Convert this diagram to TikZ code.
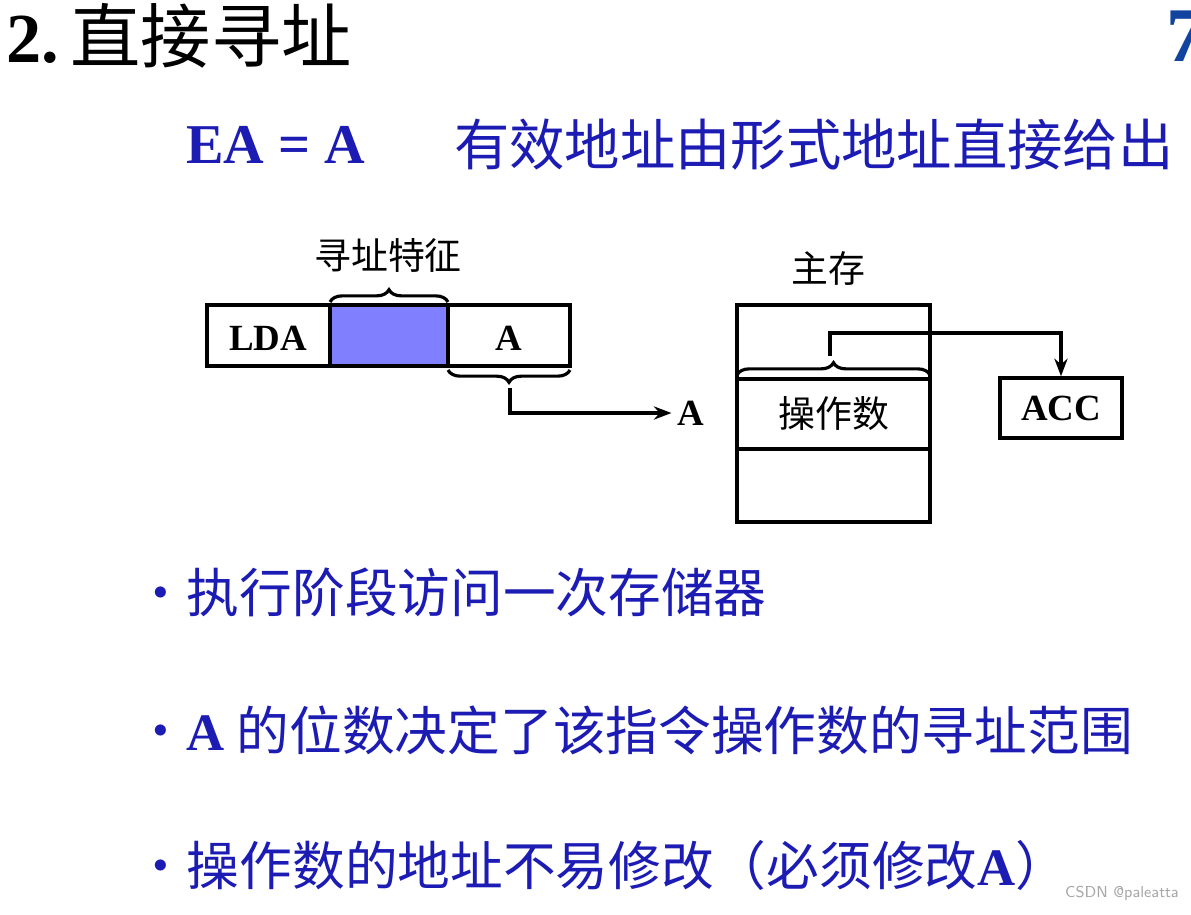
\documentclass[tikz,border=0pt]{standalone}
\usepackage{fontspec}
\setmainfont{Liberation Serif}
\newfontfamily\cjk{Noto Sans CJK SC}
\usetikzlibrary{arrows.meta,decorations.pathreplacing}
\definecolor{SlideBlue}{HTML}{1C1CB4}
\definecolor{FieldBlue}{HTML}{8080FF}

\tikzset{
  cell/.style={draw,line width=2pt},
  lbl/.style={font=\bfseries\fontsize{21}{21}\selectfont},
  cjklbl/.style={font=\cjk\fontsize{21}{21}\selectfont},
  bullet/.style={anchor=west,text=SlideBlue,font=\cjk\fontsize{30}{30}\selectfont},
  brc/.style={line width=1.8pt,decorate,decoration={brace,amplitude=7pt}},
  link/.style={line width=1.8pt,-{Stealth[length=10pt]}}
}

\begin{document}
\begin{tikzpicture}[x=0.02cm,y=-0.02cm]
    \useasboundingbox (0,0) rectangle (1191,914);
    % title
    \node[anchor=west,font=\fontsize{40}{40}\selectfont] (title) at (0,36) {\textbf{2.}\,{\cjk 直接寻址}};
    \node[anchor=west,text=SlideBlue!60!teal,font=\bfseries\fontsize{44}{44}\selectfont] (page) at (1160,36) {7};
    \node[anchor=west,text=SlideBlue,font=\bfseries\fontsize{32}{32}\selectfont] (ea) at (180,145) {EA = A};
    \node[anchor=west,text=SlideBlue,font=\cjk\fontsize{31.5}{31.5}\selectfont] (eatext) at (448,145) {有效地址由形式地址直接给出};
    % instruction
    \fill[FieldBlue] (330,305) rectangle (448,366);
    \draw[cell] (207,305) rectangle (570,366);
    \draw[cell] (330,305) -- (330,366) (448,305) -- (448,366);
    \node[lbl] (lda) at (268,338) {LDA};
    \node[lbl] (afield) at (509,338) {A};
    \draw[brc] (330,302) -- (448,302);
    \node[cjklbl] (feature) at (388,255) {寻址特征};
    \draw[brc] (570,370) -- (448,370);
    \coordinate (atip) at (510,388);
    \node[lbl] (addr) at (691,413) {A};
    \draw[link] (atip) |- (addr.west);
    % main memory
    \node[cjklbl] (mem) at (828,268) {主存};
    \draw[cell] (737,305) rectangle (930,522);
    \draw[cell] (737,379) -- (930,379) (737,449) -- (930,449);
    \node[cjklbl] (operand) at (834,414) {操作数};
    \draw[brc] (737,375) -- (930,375);
    \coordinate (otip) at (830,356);
    \node[cell,lbl,minimum width=122*0.02cm,minimum height=60*0.02cm] (acc) at (1061,408) {ACC};
    \draw[link] (otip) -- (830,333) -| (acc.north);
    % bullets
    \node[bullet] (b1) at (128,592) {•执行阶段访问一次存储器};
    \node[bullet] (b2) at (128,730) {•{\rmfamily\bfseries A} 的位数决定了该指令操作数的寻址范围};
    \node[bullet] (b3) at (128,865) {•操作数的地址不易修改（必须修改{\rmfamily\bfseries A}）};
    \node[anchor=east,text=black!35,font=\fontsize{9}{9}\selectfont\sffamily] (mark) at (1185,893) {CSDN @paleatta};
\end{tikzpicture}
\end{document}
